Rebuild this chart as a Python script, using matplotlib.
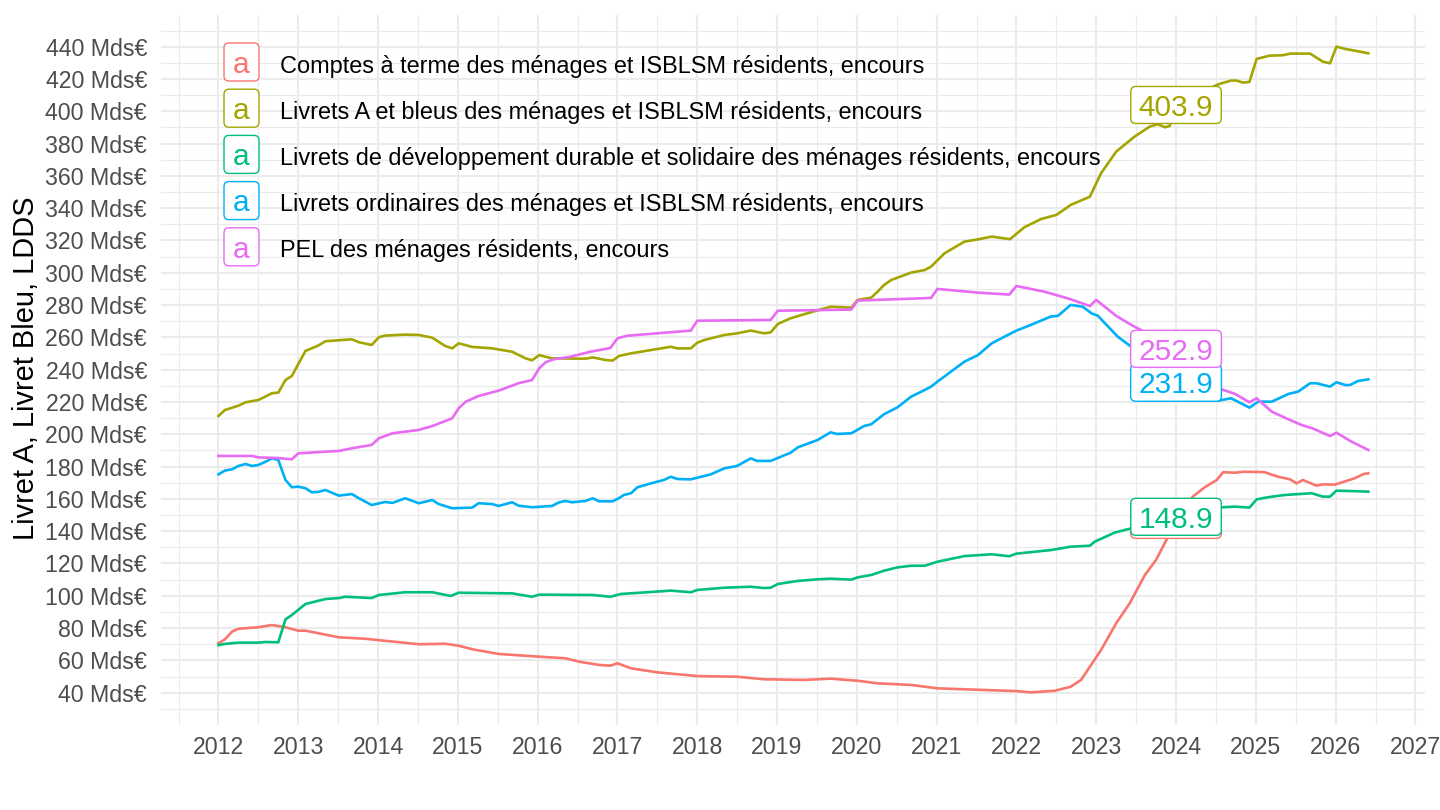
import matplotlib
matplotlib.use("Agg")
import matplotlib.pyplot as plt
from matplotlib.patches import FancyBboxPatch
from matplotlib.transforms import IdentityTransform

plt.rcParams['font.family'] = ['Liberation Sans', 'DejaVu Sans']

series_names = [
    "Comptes à terme des ménages et ISBLSM résidents, encours",
    "Livrets A et bleus des ménages et ISBLSM résidents, encours",
    "Livrets de développement durable et solidaire des ménages résidents, encours",
    "Livrets ordinaires des ménages et ISBLSM résidents, encours",
    "PEL des ménages résidents, encours",
]
colors = ["#F8766D", "#A3A500", "#00BF7D", "#00B0F6", "#E76BF3"]

# Comptes à terme
ct_years = [2012.00, 2012.08, 2012.17, 2012.25, 2012.50, 2012.67, 2012.84, 2013.00, 2013.09, 2013.51,
            2013.84, 2014.51, 2014.84, 2015.01, 2015.18, 2015.51, 2016.02, 2016.35, 2016.52, 2016.77,
            2016.91, 2017.00, 2017.17, 2017.50, 2018.00, 2018.50, 2018.84, 2019.34, 2019.67, 2020.01,
            2020.26, 2020.68, 2021.01, 2021.35, 2022.00, 2022.18, 2022.48, 2022.68, 2022.81, 2023.06,
            2023.25, 2023.42, 2023.61, 2023.75, 2023.90, 2024.00, 2024.07, 2024.21, 2024.36, 2024.51,
            2024.59, 2024.74, 2024.84, 2025.01, 2025.11, 2025.28, 2025.43, 2025.51, 2025.59, 2025.76,
            2025.84, 2025.99, 2026.24, 2026.35, 2026.41]
ct_values = [70.6, 73.0, 77.8, 79.6, 80.5, 81.9, 80.5, 78.4, 78.4, 74.3,
             73.4, 70.0, 70.3, 69.1, 66.9, 64.0, 62.3, 61.3, 59.2, 57.2,
             56.7, 58.2, 55.1, 52.6, 50.3, 49.9, 48.3, 47.9, 48.7, 47.4,
             45.8, 44.8, 42.7, 42.1, 41.0, 40.2, 41.2, 43.7, 47.9, 66.4,
             83.0, 95.4, 112.9, 122.2, 136.6, 147.0, 151.0, 161.4, 167.2, 171.7,
             176.5, 176.2, 176.8, 176.7, 176.5, 173.7, 172.1, 169.6, 171.7, 168.2,
             169.0, 168.8, 172.8, 175.4, 175.9]

# Livrets A et bleus
la_years = [2012.00, 2012.08, 2012.25, 2012.34, 2012.50, 2012.67, 2012.75, 2012.84, 2012.92, 2013.09,
            2013.25, 2013.34, 2013.67, 2013.76, 2013.92, 2014.01, 2014.09, 2014.34, 2014.51, 2014.68,
            2014.84, 2014.93, 2015.01, 2015.18, 2015.43, 2015.68, 2015.85, 2015.93, 2016.02, 2016.18,
            2016.60, 2016.69, 2016.85, 2016.94, 2017.02, 2017.17, 2017.67, 2017.75, 2017.92, 2018.00,
            2018.09, 2018.34, 2018.50, 2018.67, 2018.84, 2018.92, 2019.01, 2019.17, 2019.42, 2019.67,
            2019.93, 2020.01, 2020.18, 2020.26, 2020.34, 2020.43, 2020.68, 2020.85, 2020.93, 2021.10,
            2021.35, 2021.52, 2021.69, 2021.92, 2022.10, 2022.31, 2022.50, 2022.68, 2022.92, 2023.06,
            2023.25, 2023.48, 2023.67, 2023.77, 2023.86, 2023.92, 2024.00, 2024.25, 2024.53, 2024.69,
            2024.76, 2024.84, 2024.92, 2025.01, 2025.17, 2025.34, 2025.43, 2025.68, 2025.84, 2025.93,
            2026.01, 2026.12, 2026.24, 2026.41]
la_values = [211.3, 215.0, 217.7, 219.8, 221.2, 225.4, 225.8, 233.6, 236.1, 251.6,
             254.9, 257.6, 258.8, 257.0, 255.3, 260.1, 261.1, 261.7, 261.5, 259.8,
             254.7, 253.2, 256.3, 254.1, 253.2, 251.1, 247.0, 245.8, 249.0, 247.0,
             246.8, 247.6, 246.0, 245.6, 248.5, 250.1, 254.2, 253.2, 253.2, 256.7,
             258.4, 261.5, 262.5, 264.2, 262.5, 263.1, 268.3, 271.8, 275.5, 279.0,
             278.4, 283.2, 284.6, 288.3, 292.4, 295.5, 300.1, 301.7, 303.8, 312.1,
             319.3, 320.7, 322.4, 320.8, 328.2, 333.3, 335.8, 342.0, 347.1, 361.6,
             375.0, 384.3, 390.5, 392.0, 390.1, 390.9, 403.9, 410.0, 416.7, 419.0,
             419.0, 417.7, 418.2, 432.4, 434.4, 434.7, 435.7, 435.7, 430.7, 429.7,
             440.0, 438.6, 437.5, 435.9]

# LDDS
ld_years = [2012.00, 2012.08, 2012.25, 2012.50, 2012.59, 2012.75, 2012.84, 2012.92, 2013.09, 2013.34,
            2013.51, 2013.59, 2013.92, 2014.01, 2014.34, 2014.68, 2014.91, 2015.01, 2015.68, 2015.93,
            2016.02, 2016.69, 2016.91, 2017.04, 2017.67, 2017.92, 2018.00, 2018.34, 2018.67, 2018.84,
            2018.92, 2019.01, 2019.26, 2019.51, 2019.67, 2019.93, 2020.01, 2020.18, 2020.34, 2020.51,
            2020.68, 2020.85, 2021.01, 2021.35, 2021.69, 2021.91, 2022.00, 2022.43, 2022.68, 2022.92,
            2022.98, 2023.23, 2023.44, 2024.00, 2024.57, 2024.74, 2024.92, 2025.01, 2025.15, 2025.36,
            2025.70, 2025.84, 2025.93, 2026.01, 2026.41]
ld_values = [69.5, 70.2, 71.0, 71.0, 71.4, 71.2, 85.4, 88.1, 94.9, 98.0,
             98.6, 99.4, 98.6, 100.5, 102.2, 102.2, 99.9, 101.9, 101.5, 99.4,
             100.7, 100.5, 99.4, 101.1, 103.2, 102.2, 103.6, 105.0, 105.6, 104.8,
             105.0, 107.3, 109.2, 110.2, 110.6, 110.0, 111.4, 112.9, 115.5, 117.6,
             118.6, 118.6, 121.1, 124.6, 125.7, 124.5, 126.1, 128.3, 130.4, 131.0,
             133.5, 139.1, 141.8, 148.9, 154.8, 155.2, 154.6, 159.7, 161.0, 162.4,
             163.5, 161.4, 161.4, 165.1, 164.5]

# Livrets ordinaires
lo_years = [2012.00, 2012.08, 2012.17, 2012.25, 2012.34, 2012.42, 2012.50, 2012.59, 2012.67, 2012.75,
            2012.84, 2012.92, 2013.00, 2013.09, 2013.17, 2013.25, 2013.34, 2013.51, 2013.67, 2013.76,
            2013.92, 2014.09, 2014.18, 2014.34, 2014.51, 2014.68, 2014.76, 2014.93, 2015.18, 2015.26,
            2015.43, 2015.51, 2015.68, 2015.76, 2015.93, 2016.18, 2016.27, 2016.35, 2016.43, 2016.60,
            2016.69, 2016.77, 2016.94, 2017.02, 2017.08, 2017.17, 2017.25, 2017.42, 2017.58, 2017.67,
            2017.75, 2017.92, 2018.17, 2018.34, 2018.50, 2018.67, 2018.75, 2018.92, 2019.17, 2019.26,
            2019.51, 2019.67, 2019.75, 2019.93, 2020.09, 2020.18, 2020.34, 2020.51, 2020.68, 2020.85,
            2020.93, 2021.01, 2021.18, 2021.35, 2021.52, 2021.69, 2021.85, 2022.00, 2022.18, 2022.43,
            2022.52, 2022.68, 2022.83, 2022.94, 2023.02, 2023.27, 2023.44, 2024.00, 2024.21, 2024.36,
            2024.53, 2024.69, 2024.92, 2025.03, 2025.20, 2025.41, 2025.53, 2025.68, 2025.76, 2025.93,
            2026.01, 2026.12, 2026.18, 2026.28, 2026.41]
lo_values = [175.2, 177.5, 178.3, 180.4, 181.6, 180.4, 181.0, 183.0, 185.1, 184.1,
             171.7, 167.2, 167.6, 166.6, 164.1, 164.3, 165.5, 162.0, 163.0, 160.4,
             156.2, 158.1, 157.5, 160.4, 157.3, 159.3, 156.8, 154.2, 154.6, 157.3,
             156.8, 155.6, 157.9, 155.8, 154.8, 155.6, 157.9, 158.7, 157.9, 158.7,
             160.4, 158.5, 158.5, 160.5, 162.4, 163.5, 167.2, 169.6, 171.7, 173.7,
             172.3, 172.1, 175.2, 178.9, 180.4, 185.1, 183.5, 183.5, 188.6, 191.9,
             196.5, 201.2, 200.2, 200.6, 205.1, 206.2, 212.4, 216.7, 223.3, 227.4,
             229.5, 232.6, 238.8, 245.0, 249.1, 256.3, 260.4, 264.2, 267.7, 272.9,
             273.3, 280.1, 279.0, 274.9, 273.4, 260.4, 254.2, 231.9, 226.0, 222.0,
             220.8, 222.3, 216.5, 220.2, 220.2, 225.0, 226.4, 231.6, 231.6, 229.5,
             232.2, 230.5, 230.5, 233.0, 234.0]

# PEL
pel_years = [2012.00, 2012.42, 2012.50, 2012.75, 2012.92, 2013.00, 2013.51, 2013.67, 2013.92, 2014.01,
             2014.18, 2014.51, 2014.68, 2014.93, 2015.01, 2015.10, 2015.26, 2015.51, 2015.76, 2015.93,
             2016.02, 2016.10, 2016.20, 2016.41, 2016.66, 2016.91, 2017.00, 2017.12, 2017.92, 2018.00,
             2018.92, 2019.01, 2019.93, 2020.01, 2020.93, 2021.01, 2021.52, 2021.91, 2022.00, 2022.35,
             2022.68, 2022.92, 2023.00, 2023.25, 2023.44, 2024.00, 2024.25, 2024.53, 2024.74, 2024.92,
             2025.01, 2025.20, 2025.38, 2025.57, 2025.71, 2025.93, 2026.01, 2026.20, 2026.41]
pel_values = [186.6, 186.6, 185.7, 185.3, 184.5, 188.2, 189.7, 191.3, 193.4, 197.5,
              200.6, 202.7, 205.1, 209.9, 216.1, 220.2, 223.7, 227.0, 231.6, 233.6,
              240.9, 244.6, 246.4, 248.0, 251.1, 253.4, 259.4, 261.0, 264.2, 270.3,
              270.8, 276.5, 277.2, 282.8, 284.4, 290.0, 287.7, 286.5, 291.8, 288.3,
              283.6, 279.4, 283.2, 273.3, 267.7, 252.9, 240.0, 228.5, 225.0, 219.8,
              222.3, 214.0, 209.9, 205.8, 203.7, 198.9, 201.0, 195.4, 190.3]

all_years = [ct_years, la_years, ld_years, lo_years, pel_years]
all_values = [ct_values, la_values, ld_values, lo_values, pel_values]

label_year = 2024.0
label_values = [147.0, 403.9, 148.9, 231.9, 252.9]

y_ticks = list(range(40, 441, 20))
y_minor = list(range(30, 451, 20))
x_ticks = list(range(2012, 2028))
x_minor = [y + 0.5 for y in range(2011, 2027)]

W, H = 1440, 810
fig = plt.figure(figsize=(W / 100, H / 100), dpi=100)
fig.patch.set_facecolor("white")
ax = fig.add_axes([161 / W, (H - 725) / H, 1264 / W, 710 / H])
ax.set_xlim(2011.28, 2027.12)
ax.set_ylim(20.0, 459.6)
for s in ax.spines.values():
    s.set_visible(False)
ax.set_xticks(x_ticks)
ax.set_xticklabels([str(x) for x in x_ticks])
ax.set_xticks(x_minor, minor=True)
ax.set_yticks(y_ticks)
ax.set_yticklabels([f"{v} Mds€" for v in y_ticks])
ax.set_yticks(y_minor, minor=True)
ax.tick_params(which="both", length=0)
ax.tick_params(axis="y", labelsize=16.7, labelcolor="#4D4D4D", pad=10)
ax.tick_params(axis="x", labelsize=16.7, labelcolor="#4D4D4D", pad=8)
ax.grid(which="major", color="#EBEBEB", lw=1.5)
ax.grid(which="minor", color="#EBEBEB", lw=0.8)
ax.set_axisbelow(True)

for yrs, vals, col in zip(all_years, all_values, colors):
    ax.plot(yrs, vals, color=col, lw=1.9, solid_joinstyle="round", zorder=3)

fig.text(26 / W, 1 - 368 / H, "Livret A, Livret Bleu, LDDS", rotation=90,
         ha="center", va="center", fontsize=20.9, color="black")

fig.canvas.draw()
renderer = fig.canvas.get_renderer()
ident = IdentityTransform()

# Data labels
z = 10
for val, col in zip(label_values, colors):
    cx, cy = ax.transData.transform((label_year, val))
    t = ax.text(cx, cy - 10.7, f"{val:.1f}", transform=ident, ha="center", va="baseline",
                fontsize=21.5, color=col, zorder=z + 1)
    bb = t.get_window_extent(renderer)
    w, h = bb.width + 16, 37
    box = FancyBboxPatch((cx - w / 2, cy - h / 2), w, h,
                         boxstyle="round,pad=0,rounding_size=5",
                         transform=ident, fc="white", ec=col, lw=1.0, zorder=z)
    box.set_clip_on(False)
    ax.add_patch(box)
    z += 2

# Legend
row0, step = 62.0, 46.2
for i, (name, col) in enumerate(zip(series_names, colors)):
    yc = H - (row0 + i * step)
    kx = 241.5
    box = FancyBboxPatch((kx - 17.5, yc - 19), 35, 38,
                         boxstyle="round,pad=0,rounding_size=5",
                         transform=ident, fc="white", ec=col, lw=1.0, zorder=20)
    box.set_clip_on(False)
    ax.add_patch(box)
    ax.text(kx, yc - 10.7, "a", transform=ident, ha="center", va="baseline",
            fontsize=21.5, color=col, zorder=21)
    ax.text(280, yc - 10.7, name, transform=ident, ha="left", va="baseline",
            fontsize=16.9, color="black", zorder=21)

fig.savefig("out.png", dpi=100, facecolor="white")
